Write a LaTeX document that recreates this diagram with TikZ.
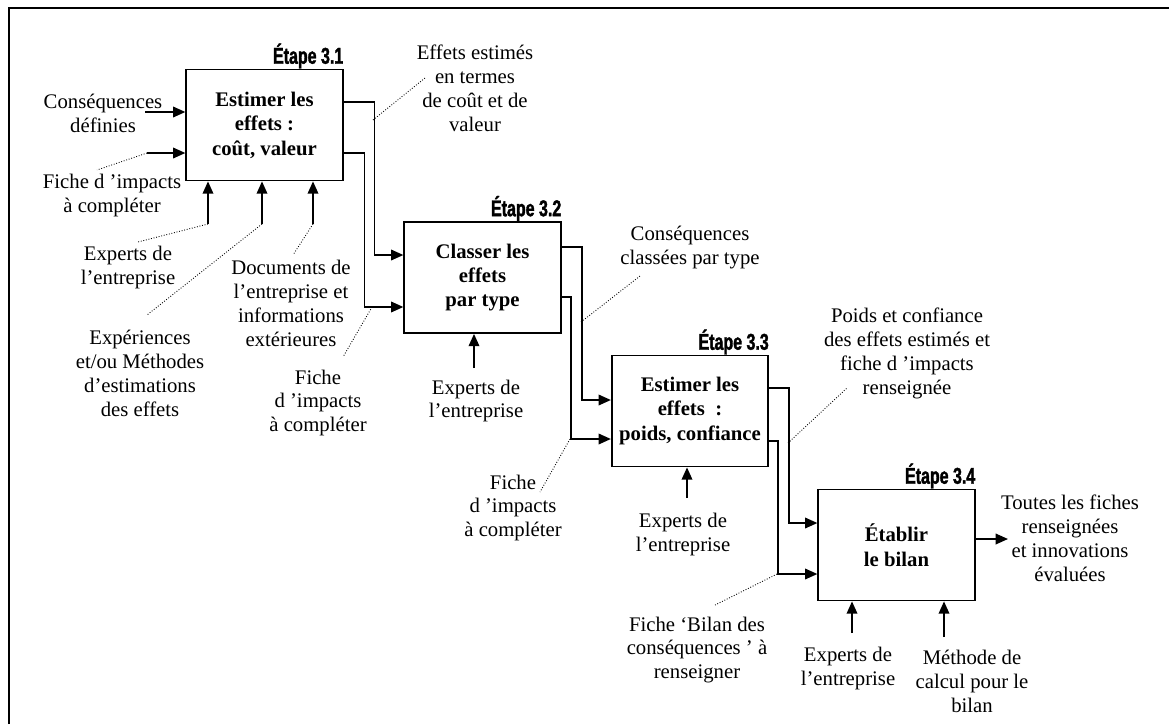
\documentclass[tikz,border=0pt]{standalone}
\usepackage{fontspec}
\setmainfont{Liberation Serif}
\newfontfamily\etapefont[FakeStretch=0.7,FakeBold=1.6]{Liberation Sans}
\usetikzlibrary{arrows.meta}

\tikzstyle{tache}= [rectangle,draw,black,line width=1pt,minimum width=3.13cm,minimum height=2.22cm,align=center,font=\fontsize{11.8}{13.9}\selectfont\bfseries]
\tikzstyle{etape}= [anchor=base east,inner sep=0pt,font=\etapefont\bfseries\fontsize{13}{13}\selectfont]
\tikzstyle{texte}= [align=center,inner sep=1pt,font=\fontsize{11.8}{13.6}\selectfont]
\tikzstyle{fleche}= [black,line width=1pt,-{Triangle[length=7pt,width=6pt]}]
\tikzstyle{renvoi}= [black,line width=0.5pt,densely dotted]

\begin{document}
\begin{tikzpicture}[x=0.02cm,y=-0.02cm]
		\useasboundingbox (0,0) rectangle (1169,724);
		\draw[line width=1.2pt] (9,724) -- (9,8) -- (1169,8);

		% les quatre etapes
		\node (t1) at (264.5,125) [tache] {Estimer les\\effets :\\coût, valeur};
		\node at ([yshift=2.8pt]t1.north east) [etape] {Étape 3.1};
		\node (t2) at (482.5,277.5) [tache] {Classer les\\effets\\par type};
		\node at ([yshift=2.8pt]t2.north east) [etape] {Étape 3.2};
		\node (t3) at (690,411) [tache] {Estimer les\\effets~~:\\poids, confiance};
		\node at ([yshift=2.8pt]t3.north east) [etape] {Étape 3.3};
		\node (t4) at (896.5,545) [tache] {Établir\\le bilan};
		\node at ([yshift=2.8pt]t4.north east) [etape] {Étape 3.4};

		% textes
		\node (n1) at (103,113.5) [texte] {Conséquences\\définies};
		\node (n2) at (112,195.5) [texte] {Fiche d ’impacts\\à compléter};
		\node (n3) at (128,267.5) [texte] {Experts de\\l’entreprise};
		\node (n4) at (140,373.5) [texte] {Expériences\\et/ou Méthodes\\d’estimations\\des effets};
		\node (n5) at (291,303.5) [texte] {Documents de\\l’entreprise et\\informations\\extérieures};
		\node (n6) at (318,403) [texte] {Fiche\\d ’impacts\\à compléter};
		\node (n7) at (475,88) [texte] {Effets estimés\\en termes\\de coût et de\\valeur};
		\node (n8) at (476,401) [texte] {Experts de\\l’entreprise};
		\node (n9) at (690,247.5) [texte] {Conséquences\\classées par type};
		\node (n10) at (513,508) [texte] {Fiche\\d ’impacts\\à compléter};
		\node (n11) at (683,534.5) [texte] {Experts de\\l’entreprise};
		\node (n12) at (907,353.5) [texte] {Poids et confiance\\des effets estimés et\\fiche d ’impacts\\renseignée};
		\node (n13) at (697,650) [texte] {Fiche ‘Bilan des\\conséquences ’ à\\renseigner};
		\node (n14) at (1070,538.5) [texte] {Toutes les fiches\\renseignées\\et innovations\\évaluées};
		\node (n15) at (848,668.5) [texte] {Experts de\\l’entreprise};
		\node (n16) at (972,681) [texte] {Méthode de\\calcul pour le\\bilan};

		% entrees libres
		\coordinate (c1) at (145,112);
		\coordinate (c2) at (147,153);
		\coordinate (c3) at (208,224);
		\coordinate (c4) at (262,224);
		\coordinate (c5) at (313,224);
		\coordinate (c6) at (474,368);
		\coordinate (c7) at (687,498);
		\coordinate (c8) at (852,633);
		\coordinate (c9) at (944,637);
		\coordinate (s4) at (1008,539);

		\draw[fleche] (c1) -- (t1.west |- c1);
		\draw[fleche] (c2) -- (t1.west |- c2);
		\draw[fleche] (c3) -- (t1.south -| c3);
		\draw[fleche] (c4) -- (t1.south -| c4);
		\draw[fleche] (c5) -- (t1.south -| c5);
		\draw[fleche] (c6) -- (t2.south -| c6);
		\draw[fleche] (c7) -- (t3.south -| c7);
		\draw[fleche] (c8) -- (t4.south -| c8);
		\draw[fleche] (c9) -- (t4.south -| c9);
		\draw[fleche] (t4.east |- s4) -- (s4);

		% liaisons entre etapes
		\draw[fleche] ([yshift=0.46cm]t1.east) -- ++(31,0) |- ([yshift=0.45cm]t2.west);
		\draw[fleche] ([yshift=-0.56cm]t1.east) -- ++(21,0) |- ([yshift=-0.59cm]t2.west);
		\draw[fleche] ([yshift=0.61cm]t2.east) -- ++(20,0) |- ([yshift=0.22cm]t3.west);
		\draw[fleche] ([yshift=-0.39cm]t2.east) -- ++(9,0) |- ([yshift=-0.56cm]t3.west);
		\draw[fleche] ([yshift=0.46cm]t3.east) -- ++(20,0) |- ([yshift=0.44cm]t4.west);
		\draw[fleche] ([yshift=-0.6cm]t3.east) -- ++(9,0) |- ([yshift=-0.58cm]t4.west);

		% renvois vers les textes
		\coordinate (r5) at (373,120);
		\coordinate (r6) at (372,307);
		\coordinate (r7) at (581,322);
		\coordinate (r8) at (570,439);
		\coordinate (r9) at (788,443);
		\coordinate (r10) at (777,574);

		\draw[renvoi] (c2) -- (97,170);
		\draw[renvoi] (c3) -- (138,242);
		\draw[renvoi] (c4) -- (147,315);
		\draw[renvoi] (c5) -- (293,255);
		\draw[renvoi] (r5) -- (425,78);
		\draw[renvoi] (r6) -- (343,357);
		\draw[renvoi] (r7) -- (640,276);
		\draw[renvoi] (r8) -- (540,492);
		\draw[renvoi] (r9) -- (847,388);
		\draw[renvoi] (r10) -- (715,605);

	\end{tikzpicture}
\end{document}
